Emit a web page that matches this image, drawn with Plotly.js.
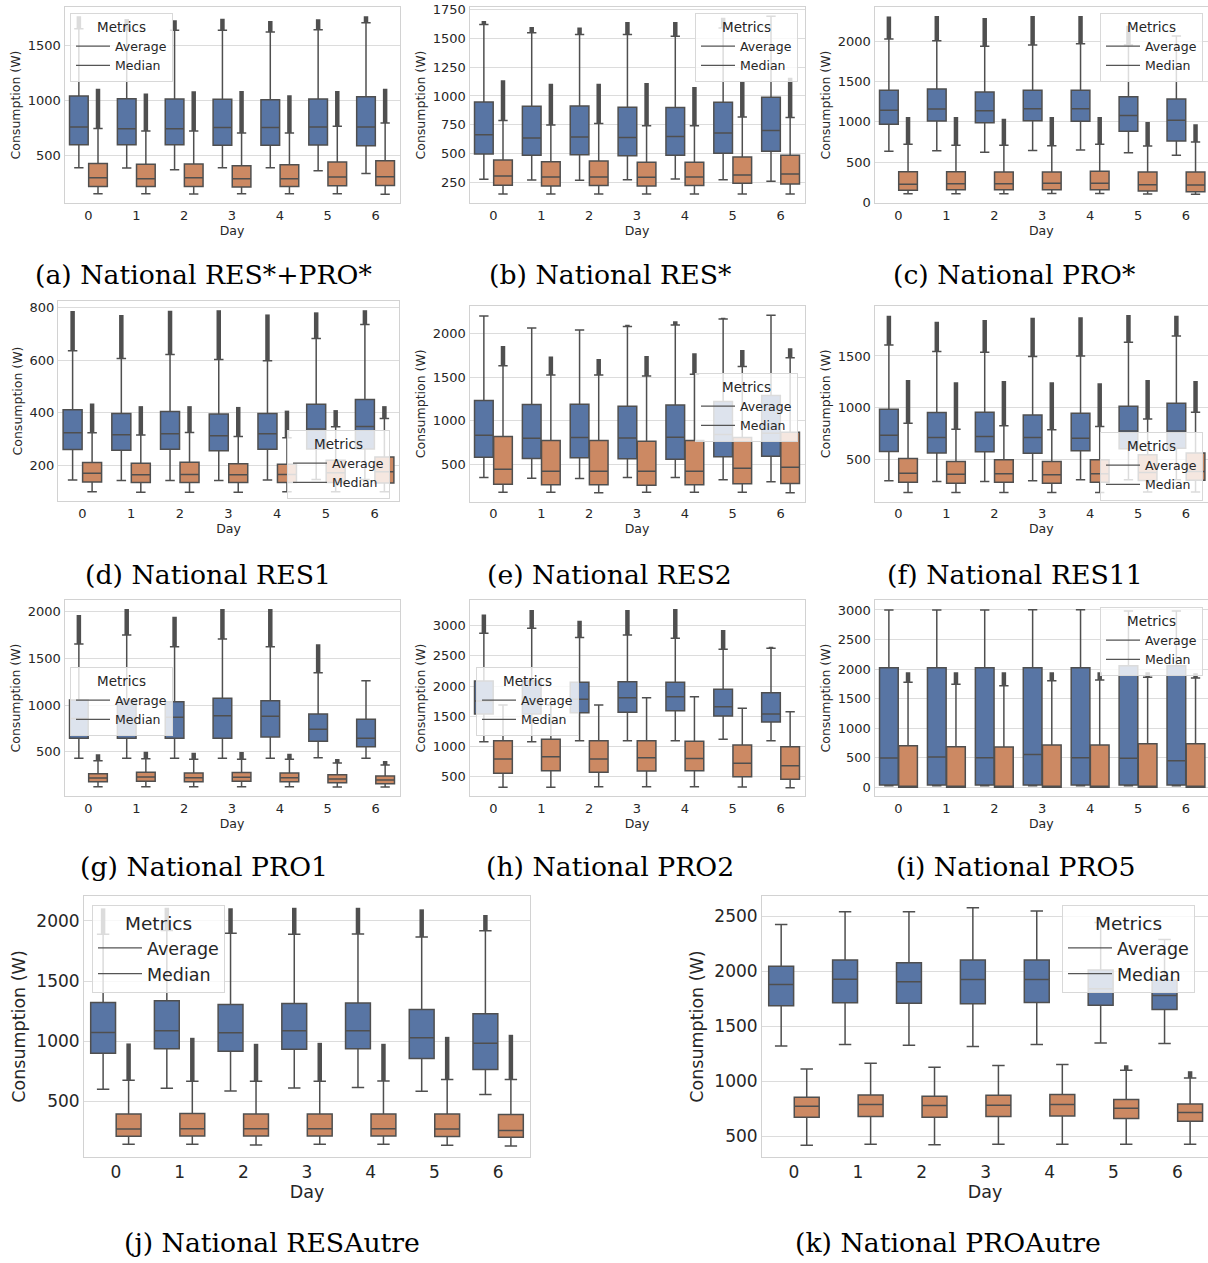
<!DOCTYPE html>
<html><head><meta charset="utf-8">
<script src="https://cdn.plot.ly/plotly-3.0.1.min.js"></script>
<style>body{margin:0;background:#fff}#chart{width:1208px;height:1263px}</style>
</head><body><div id="chart"></div>
<script>
// ---------- DATA ----------
const days = [0,1,2,3,4,5,6];
const seriesNames = ['Average','Median'];
const N = null;

// (a) National RES*+PRO*
const A_avg_lo  = [388,385,370,388,388,361,336];
const A_avg_q1  = [597,597,597,591,591,594,588];
const A_avg_med = [758,742,742,752,752,758,758];
const A_avg_q3  = [1039,1015,1012,1009,1006,1012,1033];
const A_avg_hi  = [1650,1640,1636,1636,1621,1642,1706];
const A_avg_out = [1765,1740,1727,1742,1721,1736,1764];
const A_mdn_lo  = [152,152,149,152,152,152,146];
const A_mdn_q1  = [218,218,218,212,218,224,227];
const A_mdn_med = [297,288,297,288,288,303,306];
const A_mdn_q3  = [427,418,421,406,415,439,452];
const A_mdn_hi  = [745,721,721,703,703,764,794];
const A_mdn_out = [1106,1061,1082,1085,1045,1085,1106];

// (b) National RES*
const B_avg_lo  = [276,270,267,273,279,273,258];
const B_avg_q1  = [496,484,490,481,484,502,519];
const B_avg_med = [664,635,644,640,647,678,699];
const B_avg_q3  = [948,910,913,902,899,945,988];
const B_avg_hi  = [1620,1550,1533,1533,1519,1590,1692];
const B_avg_out = [1652,1600,1595,1643,1643,1680,N];
const B_mdn_lo  = [148,148,148,148,148,148,148];
const B_mdn_q1  = [224,218,221,218,221,241,235];
const B_mdn_med = [305,296,296,293,296,313,322];
const B_mdn_q3  = [444,429,435,424,424,470,484];
const B_mdn_hi  = [786,748,760,742,742,817,812];
const B_mdn_out = [1136,1107,1107,1113,1078,1130,1159];

// (c) National PRO*
const C_avg_lo  = [635,643,623,647,652,619,586];
const C_avg_q1  = [969,1010,990,1014,1006,883,763];
const C_avg_med = [1142,1159,1138,1163,1163,1080,1019];
const C_avg_q3  = [1390,1406,1369,1390,1390,1311,1283];
const C_avg_hi  = [2025,2004,1934,1951,1967,1950,2062];
const C_avg_out = [2305,2311,2285,2310,2311,2190,N];
const C_mdn_lo  = [111,111,111,115,115,107,103];
const C_mdn_q1  = [153,161,161,161,161,144,136];
const C_mdn_med = [227,235,235,239,239,223,219];
const C_mdn_q3  = [384,384,379,379,388,379,379];
const C_mdn_hi  = [722,709,709,705,722,701,751];
const C_mdn_out = [1060,1060,1039,1060,1060,998,969];

// (d) National RES1
const D_avg_lo  = [145,143,143,143,145,147,147];
const D_avg_q1  = [260,258,261,256,261,262,262];
const D_avg_med = [324,316,320,313,320,338,348];
const D_avg_q3  = [411,397,405,395,397,432,450];
const D_avg_hi  = [635,606,621,602,597,682,735];
const D_avg_out = [786,771,787,789,773,781,789];
const D_mdn_lo  = [100,98,98,98,100,100,100];
const D_mdn_q1  = [137,135,135,135,135,135,133];
const D_mdn_med = [170,165,166,165,166,172,176];
const D_mdn_q3  = [211,208,212,206,204,220,232];
const D_mdn_hi  = [324,315,325,310,305,347,378];
const D_mdn_out = [435,425,425,422,408,410,425];

// (e) National RES2
const E_avg_lo  = [354,347,343,354,354,328,305];
const E_avg_q1  = [586,571,579,567,563,590,598];
const E_avg_med = [837,803,810,806,814,845,860];
const E_avg_q3  = [1232,1186,1190,1167,1182,1220,1290];
const E_avg_hi  = [2196,2059,2037,2075,2094,2162,2205];
const E_avg_out = [N,N,N,2097,2135,2177,N];
const E_mdn_lo  = [187,187,180,187,187,187,182];
const E_mdn_q1  = [279,271,271,267,271,282,286];
const E_mdn_med = [449,427,427,427,427,461,472];
const E_mdn_q3  = [822,776,776,768,776,810,871];
const E_mdn_hi  = [1630,1524,1524,1513,1532,1619,1721];
const E_mdn_out = [1854,1733,1706,1740,1771,1809,1828];

// (f) National RES11
const F_avg_lo  = [290,284,284,290,300,300,300];
const F_avg_q1  = [574,561,571,558,581,600,606];
const F_avg_med = [732,710,719,710,703,774,774];
const F_avg_q3  = [984,952,955,929,945,1013,1042];
const F_avg_hi  = [1606,1542,1535,1494,1500,1632,1694];
const F_avg_out = [1890,1832,1848,1871,1874,1898,1890];
const F_mdn_lo  = [176,176,176,176,176,181,181];
const F_mdn_q1  = [277,268,277,268,277,293,297];
const F_mdn_med = [364,355,358,348,358,371,381];
const F_mdn_q3  = [506,477,494,477,494,542,561];
const F_mdn_hi  = [848,790,823,784,816,890,955];
const F_mdn_out = [1268,1245,1258,1245,1235,1268,1258];

// (g) National PRO1
const G_avg_lo  = [430,430,430,430,430,437,430];
const G_avg_q1  = [644,644,644,644,658,612,554];
const G_avg_med = [857,857,868,886,879,740,644];
const G_avg_q3  = [1053,1053,1036,1071,1046,904,847];
const G_avg_hi  = [1652,1748,1624,1706,1624,1346,1260];
const G_avg_out = [1962,2026,1944,2026,2028,1649,N];
const G_mdn_lo  = [127,127,127,127,127,123,123];
const G_mdn_q1  = [180,184,180,184,180,170,159];
const G_mdn_med = [219,230,223,227,223,209,198];
const G_mdn_q3  = [266,280,273,277,273,255,241];
const G_mdn_hi  = [405,426,419,419,419,380,358];
const G_mdn_out = [473,501,490,497,480,423,401];

// (h) National PRO2
const H_avg_lo  = [1075,1075,1092,1092,1092,1114,1092];
const H_avg_q1  = [1535,1535,1557,1563,1590,1502,1402];
const H_avg_med = [1751,1755,1779,1806,1823,1657,1535];
const H_avg_q3  = [2083,2083,2061,2072,2061,1945,1889];
const H_avg_hi  = [2875,2958,2808,2847,2792,2609,2626];
const H_avg_out = [3190,3262,3085,3262,3280,2930,2653];
const H_mdn_lo  = [317,317,328,328,328,322,311];
const H_mdn_q1  = [549,594,566,588,594,494,450];
const H_mdn_med = [787,826,787,810,798,715,677];
const H_mdn_q3  = [1092,1114,1092,1092,1081,1020,992];
const H_mdn_hi  = [1684,1690,1684,1806,1823,1629,1574];
const H_mdn_out = [N,N,N,N,N,N,N];

// (i) National PRO5
const I_avg_lo  = [28,28,28,28,28,28,28];
const I_avg_q1  = [39,39,39,39,39,39,39];
const I_avg_med = [496,513,502,553,502,490,451];
const I_avg_q3  = [2024,2024,2024,2024,2024,2058,2058];
const I_avg_hi  = [2999,2999,2999,3005,3005,2982,2982];
const I_avg_out = [N,N,N,N,N,N,N];
const I_mdn_lo  = [0,0,0,0,0,0,0];
const I_mdn_q1  = [0,0,0,0,0,0,0];
const I_mdn_med = [0,0,0,0,0,0,0];
const I_mdn_q3  = [705,688,682,716,716,739,739];
const I_mdn_hi  = [1776,1742,1720,1804,1815,1861,1849];
const I_mdn_out = [1945,1945,1945,1945,1945,1945,1928];

// (j) National RESAutre
const J_avg_lo  = [600,608,586,611,614,583,556];
const J_avg_q1  = [900,936,917,933,936,856,764];
const J_avg_med = [1072,1086,1069,1086,1086,1028,983];
const J_avg_q3  = [1322,1336,1306,1314,1317,1264,1228];
const J_avg_hi  = [1890,1920,1897,1889,1892,1867,1919];
const J_avg_out = [2105,2110,2106,2110,2110,2097,2050];
const J_mdn_lo  = [142,142,136,142,142,133,128];
const J_mdn_q1  = [208,211,211,211,211,206,200];
const J_mdn_med = [269,272,272,272,272,269,256];
const J_mdn_q3  = [394,399,394,394,394,394,389];
const J_mdn_hi  = [675,667,667,667,669,680,680];
const J_mdn_out = [981,1028,978,986,978,1036,1053];

// (k) National PROAutre
const K_avg_lo  = [1321,1333,1327,1315,1333,1348,1342];
const K_avg_q1  = [1685,1712,1709,1703,1715,1691,1652];
const K_avg_med = [1879,1927,1903,1924,1924,1840,1779];
const K_avg_q3  = [2045,2100,2076,2100,2100,2009,1918];
const K_avg_hi  = [2424,2539,2539,2575,2545,2442,2288];
const K_avg_out = [N,N,N,N,N,N,N];
const K_mdn_lo  = [418,427,424,427,427,427,427];
const K_mdn_q1  = [673,679,673,679,685,661,636];
const K_mdn_med = [773,788,779,782,788,755,715];
const K_mdn_q3  = [855,876,864,873,879,833,794];
const K_mdn_hi  = [1112,1164,1127,1142,1152,1100,1030];
const K_mdn_out = [N,N,N,N,N,1145,1091];

// ---------- LAYOUT CONFIG ----------
const W = 1208, H = 1263;
const panels = [
 {cap:'(a) National RES*+PRO*', d:[[A_avg_lo,A_avg_q1,A_avg_med,A_avg_q3,A_avg_hi,A_avg_out],[A_mdn_lo,A_mdn_q1,A_mdn_med,A_mdn_q3,A_mdn_hi,A_mdn_out]],
  L:64.5,R:399.5,T:7,B:203, yr:[67,1848], dt:500, xmax:6.5, leg:[70,13], cp:[203.5,274], big:false},
 {cap:'(b) National RES*', d:[[B_avg_lo,B_avg_q1,B_avg_med,B_avg_q3,B_avg_hi,B_avg_out],[B_mdn_lo,B_mdn_q1,B_mdn_med,B_mdn_q3,B_mdn_hi,B_mdn_out]],
  L:469.5,R:804.5,T:7,B:203, yr:[70,1773], dt:250, xmax:6.5, leg:[695,13], cp:[609.5,274], big:false},
 {cap:'(c) National PRO*', d:[[C_avg_lo,C_avg_q1,C_avg_med,C_avg_q3,C_avg_hi,C_avg_out],[C_mdn_lo,C_mdn_q1,C_mdn_med,C_mdn_q3,C_mdn_hi,C_mdn_out]],
  L:874.5,R:1208,T:7,B:203, yr:[-4,2421], dt:500, xmax:6.46, leg:[1100,13], cp:[1013.5,274], big:false},
 {cap:'(d) National RES1', d:[[D_avg_lo,D_avg_q1,D_avg_med,D_avg_q3,D_avg_hi,D_avg_out],[D_mdn_lo,D_mdn_q1,D_mdn_med,D_mdn_q3,D_mdn_hi,D_mdn_out]],
  L:58,R:399,T:301,B:501, yr:[65,824], dt:200, xmax:6.5, leg:[287,430], cp:[207.5,574], big:false},
 {cap:'(e) National RES2', d:[[E_avg_lo,E_avg_q1,E_avg_med,E_avg_q3,E_avg_hi,E_avg_out],[E_mdn_lo,E_mdn_q1,E_mdn_med,E_mdn_q3,E_mdn_hi,E_mdn_out]],
  L:469.5,R:804.5,T:306,B:501.5, yr:[81,2310], dt:500, xmax:6.5, leg:[695,373], cp:[609.5,574], big:false},
 {cap:'(f) National RES11', d:[[F_avg_lo,F_avg_q1,F_avg_med,F_avg_q3,F_avg_hi,F_avg_out],[F_mdn_lo,F_mdn_q1,F_mdn_med,F_mdn_q3,F_mdn_hi,F_mdn_out]],
  L:874.5,R:1208,T:306,B:501.5, yr:[90,1984], dt:500, xmax:6.46, leg:[1100,432], cp:[1014.5,574], big:false},
 {cap:'(g) National PRO1', d:[[G_avg_lo,G_avg_q1,G_avg_med,G_avg_q3,G_avg_hi,G_avg_out],[G_mdn_lo,G_mdn_q1,G_mdn_med,G_mdn_q3,G_mdn_hi,G_mdn_out]],
  L:64.5,R:399.5,T:600,B:796, yr:[27,2123], dt:500, xmax:6.5, leg:[70,667], cp:[204,867], big:false},
 {cap:'(h) National PRO2', d:[[H_avg_lo,H_avg_q1,H_avg_med,H_avg_q3,H_avg_hi,H_avg_out],[H_mdn_lo,H_mdn_q1,H_mdn_med,H_mdn_q3,H_mdn_hi,H_mdn_out]],
  L:469.5,R:804.5,T:600,B:796, yr:[173,3429], dt:500, xmax:6.5, leg:[476,667], cp:[609.5,867], big:false},
 {cap:'(i) National PRO5', d:[[I_avg_lo,I_avg_q1,I_avg_med,I_avg_q3,I_avg_hi,I_avg_out],[I_mdn_lo,I_mdn_q1,I_mdn_med,I_mdn_q3,I_mdn_hi,I_mdn_out]],
  L:874.5,R:1208,T:600,B:796, yr:[-147,3169], dt:500, xmax:6.46, leg:[1100,607], cp:[1015.5,867], big:false},
 {cap:'(j) National RESAutre', d:[[J_avg_lo,J_avg_q1,J_avg_med,J_avg_q3,J_avg_hi,J_avg_out],[J_mdn_lo,J_mdn_q1,J_mdn_med,J_mdn_q3,J_mdn_hi,J_mdn_out]],
  L:84,R:530,T:896,B:1157, yr:[36,2208], dt:500, xmax:6.5, leg:[92,905], cp:[271.5,1242], big:true},
 {cap:'(k) National PROAutre', d:[[K_avg_lo,K_avg_q1,K_avg_med,K_avg_q3,K_avg_hi,K_avg_out],[K_mdn_lo,K_mdn_q1,K_mdn_med,K_mdn_q3,K_mdn_hi,K_mdn_out]],
  L:762,R:1208,T:896,B:1157, yr:[312,2682], dt:500, xmax:6.48, leg:[1062,905], cp:[948,1242], big:true}
];

const fills = ['#5875a4','#cc8963'];
const offs = [-0.2, 0.2];
const lineCol = '#4f4f4f';
const textCol = '#262626';
const gridCol = '#dcdcdc';
const frameCol = '#d2d2d2';

const traces = [];
const layout = {
  width: W, height: H, margin:{l:0,r:0,t:0,b:0},
  paper_bgcolor:'#ffffff', plot_bgcolor:'#ffffff',
  showlegend:true, boxmode:'overlay',
  font:{family:'DejaVu Sans', color:textCol},
  annotations: []
};

panels.forEach((p, i) => {
  const n = i + 1;
  const xa = 'x' + (n > 1 ? n : ''), ya = 'y' + (n > 1 ? n : '');
  const xk = 'xaxis' + (n > 1 ? n : ''), yk = 'yaxis' + (n > 1 ? n : '');
  const lk = 'legend' + (n > 1 ? n : '');
  const tickSize = p.big ? 17 : 13;
  const titleSize = p.big ? 17.5 : 12.5;

  p.d.forEach((s, k) => {
    const [lo, q1, med, q3, hi, out] = s;
    const xs = days.map(d => d + offs[k]);
    traces.push({
      type:'box', x: xs, q1: q1, median: med, q3: q3, lowerfence: lo, upperfence: hi,
      width: 0.39, whiskerwidth: 0.5, boxpoints: false,
      fillcolor: fills[k], line:{color: lineCol, width: 1.5},
      hoverinfo:'skip', showlegend:false, xaxis: xa, yaxis: ya
    });
    // outlier columns (dense stacks of flier points) from whisker cap to max outlier
    const ox = [], oy = [];
    days.forEach((d, j) => {
      if (out[j] !== null) { ox.push(xs[j], xs[j], null); oy.push(hi[j], out[j], null); }
    });
    if (ox.length) traces.push({
      type:'scatter', mode:'lines', x: ox, y: oy,
      line:{color: lineCol, width: 4.5}, hoverinfo:'skip', showlegend:false,
      xaxis: xa, yaxis: ya
    });
  });
  seriesNames.forEach(nm => traces.push({
    type:'scatter', mode:'lines', x:[null], y:[null], name: nm, legend: lk,
    line:{color:'#555555', width:1.2}, xaxis: xa, yaxis: ya
  }));

  layout[xk] = {
    domain:[p.L / W, p.R / W], anchor: ya, range:[-0.5, p.xmax],
    tickvals: days, ticktext: days.map(String), showgrid:false, zeroline:false,
    showline:true, mirror:true, linecolor: frameCol, linewidth:1, ticks:'',
    tickfont:{size: tickSize, color: textCol},
    title:{text:'Day', font:{size: titleSize, color: textCol}, standoff: p.big ? 4 : 2}
  };
  layout[yk] = {
    domain:[1 - p.B / H, 1 - p.T / H], anchor: xa, range: p.yr, dtick: p.dt, tick0: 0,
    showgrid:true, gridcolor: gridCol, gridwidth:1, zeroline:false,
    showline:true, mirror:true, linecolor: frameCol, linewidth:1, ticks:'',
    tickfont:{size: tickSize, color: textCol},
    title:{text:'Consumption (W)', font:{size: titleSize, color: textCol}, standoff: p.big ? 6 : 4}
  };
  layout[lk] = {
    x: p.leg[0] / W, y: 1 - p.leg[1] / H, xanchor:'left', yanchor:'top',
    bgcolor:'rgba(255,255,255,0.8)', bordercolor:'#d8d8d8', borderwidth:1,
    font:{family:'DejaVu Sans', size: p.big ? 17.5 : 12.5, color: textCol},
    title:{text:'Metrics', side:'top center', font:{size: p.big ? 18.5 : 13.5, color: textCol}},
    itemwidth: p.big ? 44 : 34, tracegroupgap:0
  };
  layout.annotations.push({
    xref:'paper', yref:'paper', x: p.cp[0] / W, y: 1 - p.cp[1] / H,
    xanchor:'center', yanchor:'middle', showarrow:false, text: p.cap,
    font:{family:'DejaVu Serif', size:26.7, color:'#000000'}
  });
});

Plotly.newPlot('chart', traces, layout, {displayModeBar:false, staticPlot:true});
</script></body></html>
